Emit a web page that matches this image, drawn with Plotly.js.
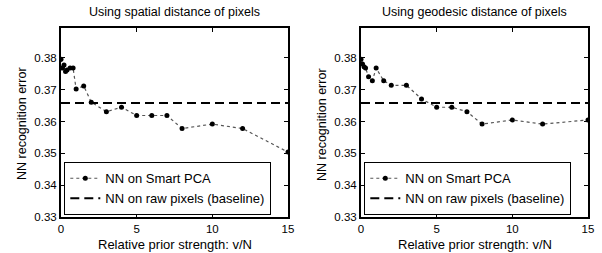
<!DOCTYPE html>
<html>
<head>
<meta charset="utf-8">
<script src="https://cdn.plot.ly/plotly-3.0.1.min.js"></script>
<style>html,body{margin:0;padding:0;background:#fff;}#chart{width:602px;height:253px;}</style>
</head>
<body>
<div id="chart"></div>
<script>
// ---- data ----
const titles = ["Using spatial distance of pixels", "Using geodesic distance of pixels"];
const xSpatial = [0, 0.1, 0.2, 0.3, 0.4, 0.6, 0.8, 1, 1.5, 2, 3, 4, 5, 6, 7, 8, 10, 12, 15];
const ySpatial = [0.3796, 0.3768, 0.3778, 0.3757, 0.3762, 0.3768, 0.3768, 0.3702, 0.3712, 0.3661, 0.3631, 0.3645, 0.3619, 0.3619, 0.3619, 0.3578, 0.3592, 0.3578, 0.3504];
const xGeodesic = [0, 0.1, 0.2, 0.3, 0.5, 0.75, 1, 1.5, 2, 3, 4, 5, 6, 7, 8, 10, 12, 15];
const yGeodesic = [0.3796, 0.3781, 0.3772, 0.3768, 0.3741, 0.3728, 0.3768, 0.3728, 0.3714, 0.3714, 0.3671, 0.3645, 0.3645, 0.3631, 0.3592, 0.3605, 0.3592, 0.3605];
const baselineX = [0, 15];
const baselineSpatial = [0.3658, 0.3658];
const baselineGeodesic = [0.3658, 0.3658];
const xTicks = [0, 5, 10, 15];
const yTicks = [0.33, 0.34, 0.35, 0.36, 0.37, 0.38];
const yTickText = ["0.33", "0.34", "0.35", "0.36", "0.37", "0.38"];
const seriesNames = ["NN on Smart PCA", "NN on raw pixels (baseline)"];
const xTitle = "Relative prior strength: v/N";
const yTitle = "NN recognition error";

const FONT = "Liberation Sans, Arial, Helvetica, sans-serif";

function pcaTrace(x, y, xa, ya, leg) {
  return {x: x, y: y, xaxis: xa, yaxis: ya, type: "scatter", mode: "lines+markers",
    name: seriesNames[0], legend: leg,
    line: {color: "#555", width: 1.2, dash: "dot"},
    marker: {color: "#000", size: 5, symbol: "circle"}};
}
function baseTrace(x, y, xa, ya, leg) {
  return {x: x, y: y, xaxis: xa, yaxis: ya, type: "scatter", mode: "lines",
    name: seriesNames[1], legend: leg,
    line: {color: "#000", width: 2, dash: "9px,5px"}};
}

const data = [
  pcaTrace(xSpatial, ySpatial, "x", "y", "legend"),
  baseTrace(baselineX, baselineSpatial, "x", "y", "legend"),
  pcaTrace(xGeodesic, yGeodesic, "x2", "y2", "legend2"),
  baseTrace(baselineX, baselineGeodesic, "x2", "y2", "legend2")
];

function xaxis(dom, anchor) {
  return {domain: dom, anchor: anchor, range: [0, 15], tickvals: xTicks,
    ticks: "inside", ticklen: 4, tickwidth: 1, tickcolor: "#000",
    showline: true, linecolor: "#000", linewidth: 2, mirror: "ticks",
    showgrid: false, zeroline: false, tickfont: {family: FONT, size: 11.5, color: "#000"}};
}
function yaxis(anchor) {
  return {domain: [0.1423, 0.8893], anchor: anchor, range: [0.33, 0.3894],
    tickvals: yTicks, ticktext: yTickText,
    ticks: "inside", ticklen: 4, tickwidth: 1, tickcolor: "#000",
    showline: true, linecolor: "#000", linewidth: 2, mirror: "ticks",
    showgrid: false, zeroline: false, tickfont: {family: FONT, size: 11.5, color: "#000"}};
}
function legend(x) {
  return {x: x, y: 1 - 215 / 253, xanchor: "left", yanchor: "bottom", xref: "paper", yref: "paper",
    bgcolor: "#fff", bordercolor: "#000", borderwidth: 1.3,
    font: {family: FONT, size: 13, color: "#000"}, tracegroupgap: 0, itemwidth: 30};
}

const ann = [];
const centers = [174.5 / 602, 474.5 / 602];
const yTitleX = [22 / 602, 322 / 602];
for (let i = 0; i < 2; i++) {
  ann.push({text: titles[i], x: centers[i], y: 1 - 12 / 253, xref: "paper", yref: "paper",
    xanchor: "center", yanchor: "middle",
    showarrow: false, font: {family: FONT, size: 12.5, color: "#000"}});
  ann.push({text: xTitle, x: centers[i], y: 1 - 244 / 253, xref: "paper", yref: "paper",
    xanchor: "center", yanchor: "middle",
    showarrow: false, font: {family: FONT, size: 13, color: "#000"}});
  ann.push({text: yTitle, x: yTitleX[i], y: 1 - 124 / 253, xref: "paper", yref: "paper",
    xanchor: "center", yanchor: "middle",
    textangle: -90, showarrow: false, font: {family: FONT, size: 12.5, color: "#000"}});
}

const layout = {
  width: 602, height: 253, margin: {l: 0, r: 0, t: 0, b: 0},
  paper_bgcolor: "#fff", plot_bgcolor: "#fff",
  xaxis: xaxis([61 / 602, 288 / 602], "y"),
  yaxis: yaxis("x"),
  xaxis2: xaxis([361 / 602, 588 / 602], "y2"),
  yaxis2: yaxis("x2"),
  legend: legend(64 / 602),
  legend2: legend(364 / 602),
  annotations: ann,
  showlegend: true
};

Plotly.newPlot("chart", data, layout, {staticPlot: true, displayModeBar: false});
</script>
</body>
</html>
